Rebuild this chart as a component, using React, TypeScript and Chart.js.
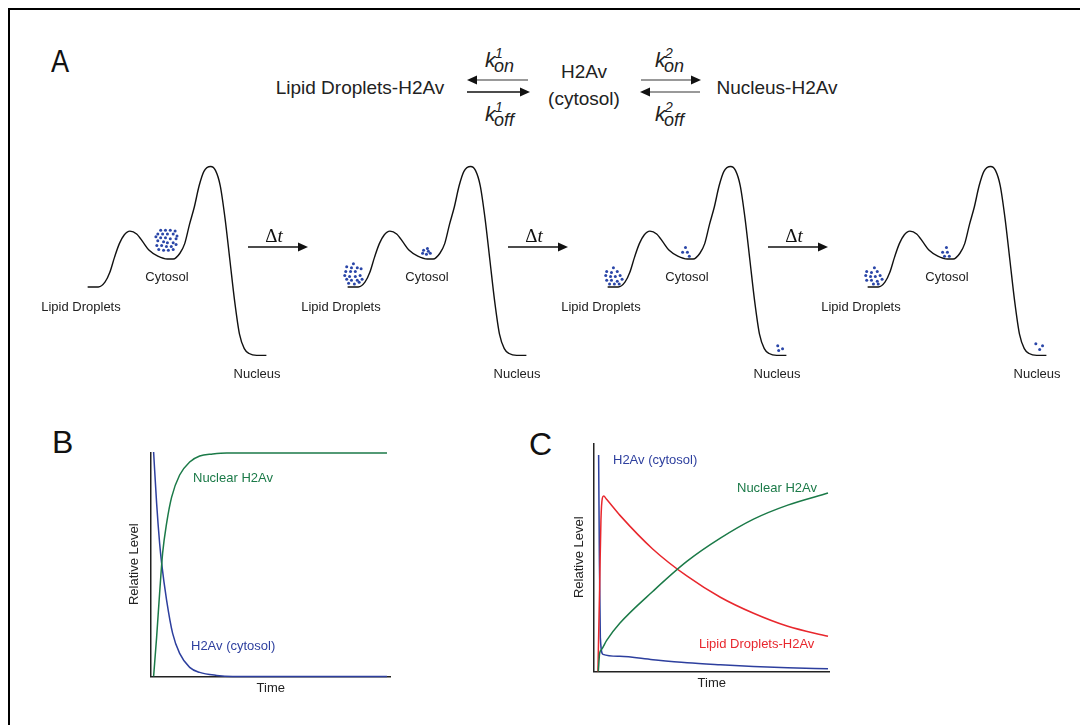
import React, { useEffect, useRef } from "react";
import { Chart, registerables } from "chart.js";

Chart.register(...registerables);

const FONT = "'Liberation Sans', Arial, Helvetica, sans-serif";
const SERIF = "'Liberation Serif', 'Times New Roman', serif";

// ---------- Panel A: free-energy landscape (reaction coordinate vs. energy, arbitrary units) ----------
const landscapeCoord = [9, 20, 27, 32, 37, 42, 47, 53, 60, 67, 73, 82, 92, 98, 105, 110, 115, 120, 125, 130, 137, 142, 147, 152, 157, 162, 167, 172, 177, 185, 195];
const landscapeEnergy = [82, 82, 87, 97, 113, 127, 136, 140, 137, 128, 120, 114, 111, 111, 117, 127, 147, 165, 187, 202, 207, 203, 187, 153, 110, 67, 33, 18, 13, 11, 11];

// H2Av molecules (coordinate, energy) at each time step
const stage1Cytosol = [
  [85, 141], [90, 141], [95, 141], [100, 140],
  [82, 137], [87, 137], [92, 137], [98, 137], [102, 135],
  [80, 134], [85, 133], [90, 133], [95, 132], [101, 132],
  [82, 130], [88, 129], [92, 128], [98, 128],
  [81, 125], [86, 125], [91, 124], [96, 124], [101, 126],
  [83, 121], [88, 120], [93, 120], [98, 121],
];
const stage2Lipid = [
  [15, 106], [8, 103], [13, 102], [19, 102],
  [7, 98], [12, 98], [17, 98], [23, 101],
  [6, 94], [11, 93], [17, 93], [22, 94],
  [8, 90], [13, 89], [19, 89], [24, 90],
  [10, 86], [16, 85], [21, 87],
];
const stage2Cytosol = [[92, 122], [88, 120], [93, 119], [87, 117], [91, 116], [95, 117]];
const stage3Lipid = [
  [15, 102], [8, 98], [13, 97], [19, 98],
  [7, 94], [12, 93], [17, 93], [22, 94],
  [8, 89], [13, 89], [19, 88], [24, 90],
  [11, 85], [16, 85], [21, 85],
];
const stage3Cytosol = [[90, 123], [87, 118], [92, 118], [94, 114]];
const stage3Nucleus = [[186, 21], [191, 18], [187, 16]];
const stage4Lipid = [
  [16, 102], [8, 98], [13, 97], [19, 98],
  [7, 94], [12, 93], [17, 93], [22, 94],
  [8, 89], [13, 89], [19, 88], [24, 90],
  [15, 85], [20, 85],
];
const stage4Cytosol = [[91, 123], [87, 118], [92, 118], [94, 114], [89, 114]];
const stage4Nucleus = [[184, 23], [191, 21], [188, 17]];

const stages = [
  [...stage1Cytosol],
  [...stage2Lipid, ...stage2Cytosol],
  [...stage3Lipid, ...stage3Cytosol, ...stage3Nucleus],
  [...stage4Lipid, ...stage4Cytosol, ...stage4Nucleus],
];

// ---------- Panel B: kinetics without lipid droplets ----------
const bNuclearTime = [3, 6, 9, 12, 16, 21, 29, 39, 49, 62, 76, 236];
const bNuclearLevel = [0, 39, 83, 123, 153, 179, 201, 214, 220, 222, 223, 223];
const bCytosolTime = [3, 6, 9, 11, 16, 22, 29, 39, 49, 66, 82, 236];
const bCytosolLevel = [224, 173, 133, 113, 76, 43, 23, 9, 4, 1, 0, 0];

// ---------- Panel C: kinetics with lipid droplets ----------
const cCytosolTime = [5, 5.7, 6.7, 9.3, 26, 59, 93, 126, 159, 193, 233];
const cCytosolLevel = [216, 118, 34, 17, 15, 11.7, 8.7, 6.7, 5, 3.7, 2.7];
const cLipidTime = [4.3, 6, 7.3, 8.7, 10, 12.7, 26, 59, 93, 126, 159, 193, 233];
const cLipidLevel = [0, 84, 151, 173, 175, 172, 156, 122, 95, 74, 58, 45, 35];
const cNuclearTime = [4.7, 6, 8, 13, 26, 59, 93, 126, 159, 193, 233];
const cNuclearLevel = [0, 18, 22, 31, 48, 80, 110, 133, 152, 166, 178];

const BLUE = "#2d3f9e";
const GREEN = "#1b7a48";
const RED = "#e8272d";
const DOT = "#2a46a8";

const pts = (xs: number[], ys: number[]) => xs.map((x, i) => ({ x, y: ys[i] }));

function ChartBox({ left, top, width, height, config }: any) {
  const ref = useRef<HTMLCanvasElement>(null);
  useEffect(() => {
    const chart = new Chart(ref.current as HTMLCanvasElement, config);
    return () => chart.destroy();
  }, []);
  return (
    <canvas
      ref={ref}
      width={width}
      height={height}
      style={{ position: "absolute", left, top, width, height }}
    />
  );
}

const baseOptions = {
  responsive: false,
  maintainAspectRatio: false,
  animation: false,
  devicePixelRatio: 1,
  events: [],
  layout: { padding: 0 },
  plugins: { legend: { display: false }, tooltip: { enabled: false } },
};

function landscapeConfig(dots: number[][]) {
  return {
    type: "scatter",
    data: {
      datasets: [
        {
          data: pts(landscapeCoord, landscapeEnergy),
          showLine: true,
          borderColor: "#111",
          borderWidth: 1.4,
          pointRadius: 0,
          cubicInterpolationMode: "monotone",
          clip: false,
          order: 2,
        },
        {
          data: dots.map(([x, y]) => ({ x, y })),
          showLine: false,
          pointRadius: 1.5,
          pointBackgroundColor: DOT,
          pointBorderWidth: 0,
          clip: false,
          order: 1,
        },
      ],
    },
    options: {
      ...baseOptions,
      scales: {
        x: { type: "linear", min: 0, max: 205, display: false },
        y: { type: "linear", min: 0, max: 220, display: false },
      },
    },
  };
}

function axis(max: number, title: string, pad: any) {
  return {
    type: "linear",
    min: 0,
    max,
    ticks: { display: false },
    grid: { display: false, drawTicks: false },
    border: { display: true, color: "#222", width: 1.5 },
    title: { display: true, text: title, color: "#222", font: { family: FONT, size: 13 }, padding: pad },
  };
}

function line(data: any, color: string) {
  return {
    data,
    showLine: true,
    borderColor: color,
    borderWidth: 1.5,
    pointRadius: 0,
    cubicInterpolationMode: "monotone",
    clip: false,
  };
}

const configB = {
  type: "scatter",
  data: {
    datasets: [
      line(pts(bNuclearTime, bNuclearLevel), GREEN),
      line(pts(bCytosolTime, bCytosolLevel), BLUE),
    ],
  },
  options: {
    ...baseOptions,
    scales: {
      x: axis(240, "Time", { top: 4, bottom: 4 }),
      y: axis(224, "Relative Level", { top: 4, bottom: 8 }),
    },
  },
};

const configC = {
  type: "scatter",
  data: {
    datasets: [
      line(pts(cNuclearTime, cNuclearLevel), GREEN),
      line(pts(cLipidTime, cLipidLevel), RED),
      line(pts(cCytosolTime, cCytosolLevel), BLUE),
    ],
  },
  options: {
    ...baseOptions,
    scales: {
      x: axis(235, "Time", { top: 4, bottom: 4 }),
      y: axis(228, "Relative Level", { top: 4, bottom: 6 }),
    },
  },
};

function Txt({ x, y, size = 13, color = "#222", anchor = "middle", children, style }: any) {
  const tx = anchor === "start" ? "0" : anchor === "end" ? "-100%" : "-50%";
  return (
    <div
      style={{
        position: "absolute",
        left: x,
        top: y,
        transform: `translate(${tx}, -50%)`,
        fontFamily: FONT,
        fontSize: size,
        lineHeight: 1,
        color,
        whiteSpace: "nowrap",
        ...style,
      }}
    >
      {children}
    </div>
  );
}

function KLabel({ x, baseline, sub, sup }: any) {
  const common = { position: "absolute" as const, fontFamily: FONT, fontStyle: "italic", lineHeight: 1, color: "#222" };
  return (
    <>
      <div style={{ ...common, left: x, top: baseline - 19, fontSize: 21 }}>k</div>
      <div style={{ ...common, left: x + 9, top: baseline - 11, fontSize: 18 }}>{sub}</div>
      <div style={{ ...common, left: x + 10, top: baseline - 22, fontSize: 14 }}>{sup}</div>
    </>
  );
}

function Arrow({ x1, x2, y, color = "#222", head = "#111" }: any) {
  const dir = x2 > x1 ? 1 : -1;
  const hl = 10;
  const hw = 4.5;
  const bx = x2 - dir * hl;
  return (
    <g>
      <line x1={x1} y1={y} x2={bx} y2={y} stroke={color} strokeWidth={1.6} />
      <polygon points={`${x2},${y} ${bx},${y - hw} ${bx},${y + hw}`} fill={head} />
    </g>
  );
}

export default function App() {
  const offsets = [0, 260, 520, 780];
  return (
    <div
      style={{
        position: "absolute",
        left: 0,
        top: 0,
        width: 1080,
        height: 725,
        overflow: "hidden",
        background: "#fff",
      }}
    >
      {/* frame */}
      <div
        style={{
          position: "absolute",
          left: 8,
          top: 8,
          width: 1080,
          height: 725,
          borderTop: "2px solid #000",
          borderLeft: "2px solid #000",
        }}
      />

      {/* panel letters */}
      <div style={{ position: "absolute", left: 51, top: 45, fontFamily: FONT, fontSize: 32, lineHeight: 1, color: "#111", transform: "scaleX(0.85)", transformOrigin: "left" }}>A</div>
      <div style={{ position: "absolute", left: 52, top: 426, fontFamily: FONT, fontSize: 32, lineHeight: 1, color: "#111" }}>B</div>
      <div style={{ position: "absolute", left: 529, top: 428, fontFamily: FONT, fontSize: 32, lineHeight: 1, color: "#111" }}>C</div>

      {/* reaction scheme */}
      <Txt x={360} y={87} size={19}>Lipid Droplets-H2Av</Txt>
      <Txt x={584} y={71} size={19}>H2Av</Txt>
      <Txt x={584} y={98} size={19}>(cytosol)</Txt>
      <Txt x={777} y={87} size={19}>Nucleus-H2Av</Txt>
      <KLabel x={485} baseline={68} sub="on" sup="1" />
      <KLabel x={485} baseline={122} sub="off" sup="1" />
      <KLabel x={655} baseline={68} sub="on" sup="2" />
      <KLabel x={655} baseline={122} sub="off" sup="2" />

      {/* energy landscapes */}
      {offsets.map((o, i) => (
        <ChartBox key={"l" + i} left={75 + o} top={150} width={205} height={220} config={landscapeConfig(stages[i])} />
      ))}
      {offsets.map((o, i) => (
        <React.Fragment key={"t" + i}>
          <Txt x={81 + o} y={306} size={13}>Lipid Droplets</Txt>
          <Txt x={167 + o} y={276} size={13}>Cytosol</Txt>
          <Txt x={257 + o} y={373} size={13}>Nucleus</Txt>
        </React.Fragment>
      ))}
      {[0, 260, 520].map((o, i) => (
        <div
          key={"dt" + i}
          style={{
            position: "absolute",
            left: 274 + o,
            top: 235,
            transform: "translate(-50%, -50%)",
            fontFamily: SERIF,
            fontSize: 19,
            lineHeight: 1,
            color: "#111",
            whiteSpace: "nowrap",
          }}
        >
          Δ<span style={{ fontStyle: "italic" }}>t</span>
        </div>
      ))}

      <svg width={1080} height={725} style={{ position: "absolute", left: 0, top: 0, pointerEvents: "none" }}>
        <Arrow x1={528} x2={467} y={80} color="#777" />
        <Arrow x1={467} x2={530} y={92} color="#111" />
        <Arrow x1={641} x2={701} y={80} color="#777" />
        <Arrow x1={700} x2={640} y={92} color="#777" />
        {[0, 260, 520].map((o) => (
          <Arrow key={o} x1={248 + o} x2={308 + o} y={247} color="#111" />
        ))}
      </svg>

      {/* Panel B */}
      <ChartBox left={123} top={452} width={268} height={248} config={configB} />
      <Txt x={193} y={477} size={13} color={GREEN} anchor="start">Nuclear H2Av</Txt>
      <Txt x={191} y={645} size={13} color={BLUE} anchor="start">H2Av (cytosol)</Txt>

      {/* Panel C */}
      <ChartBox left={568} top={443} width={262} height={252} config={configC} />
      <Txt x={613} y={459} size={13} color={BLUE} anchor="start">H2Av (cytosol)</Txt>
      <Txt x={737} y={487} size={13} color={GREEN} anchor="start">Nuclear H2Av</Txt>
      <Txt x={699} y={643} size={13} color={RED} anchor="start">Lipid Droplets-H2Av</Txt>
    </div>
  );
}
